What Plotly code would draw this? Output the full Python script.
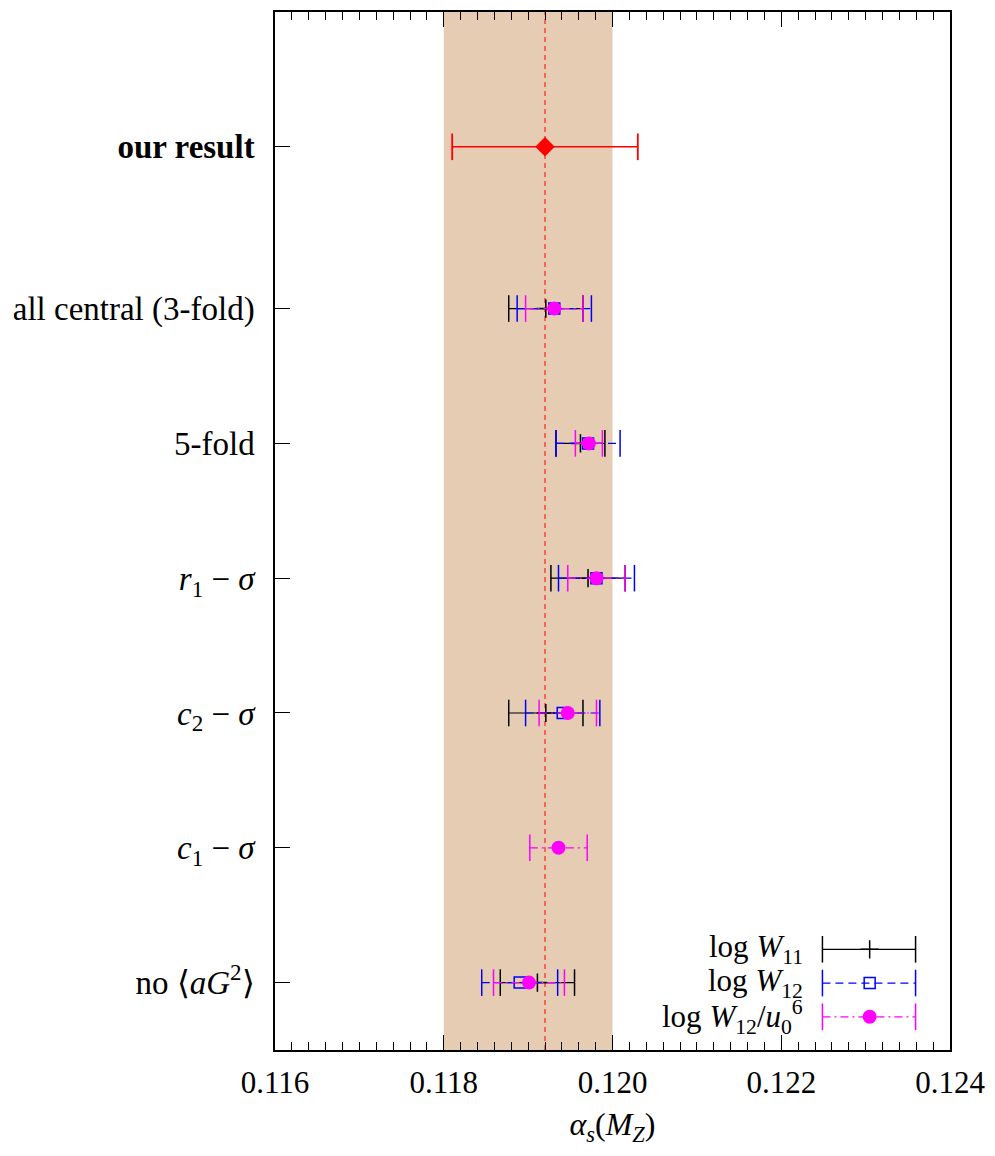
import plotly.graph_objects as go

# ---------------- data ----------------
row_labels = [
    "no ⟨<i>aG</i><sup>2</sup>⟩",
    "<i>c</i><sub>1</sub> − <i>σ</i>",
    "<i>c</i><sub>2</sub> − <i>σ</i>",
    "<i>r</i><sub>1</sub> − <i>σ</i>",
    "5-fold",
    "all central (3-fold)",
    "<b>our result</b>",
]
row_pos = [0, 1, 2, 3, 4, 5, 6.2]

w11_val = [0.11911, None, 0.11921, 0.11971, 0.11962, 0.11921]
w11_err = [0.00044, None, 0.00044, 0.00044, 0.00029, 0.00044]
w12_val = [0.11890, None, 0.11941, 0.11981, 0.11971, 0.11931]
w12_err = [0.00045, None, 0.00044, 0.00045, 0.00038, 0.00044]
u0_val = [0.11901, 0.11936, 0.11947, 0.11981, 0.11972, 0.11931]
u0_err = [0.00042, 0.00034, 0.00034, 0.00034, 0.00016, 0.00034]

result_val = 0.1192
result_err = 0.0011
band = [0.118, 0.120]

x_ticks = [0.116, 0.118, 0.120, 0.122, 0.124]

legend_names = [
    "log <i>W</i><sub>11</sub>",
    "log <i>W</i><sub>12</sub>",
    "log <i>W</i><sub>12</sub>/<i>u</i><sub>0</sub><sup>6</sup>",
]

FONT = "Liberation Serif"
FS = 31

series = [
    dict(val=w11_val, err=w11_err, color="black", dash="solid",
         symbol="cross-thin-open", size=13, name=legend_names[0]),
    dict(val=w12_val, err=w12_err, color="blue", dash="8px,5px",
         symbol="square-open", size=11, name=legend_names[1]),
    dict(val=u0_val, err=u0_err, color="magenta", dash="8px,4px,2px,4px",
         symbol="circle", size=14, name=legend_names[2]),
]

fig = go.Figure()


def add_errbar(val, err, ys, color, dash, symbol, size, lw=1.2):
    lx, ly, cx, cy, mx, my = [], [], [], [], [], []
    for v, e, y in zip(val, err, ys):
        if v is None:
            continue
        lx += [v - e, v + e, None]
        ly += [y, y, None]
        cx += [v - e, v + e]
        cy += [y, y]
        mx.append(v)
        my.append(y)
    fig.add_trace(go.Scatter(x=lx, y=ly, mode="lines",
                             line=dict(color=color, width=lw, dash=dash),
                             showlegend=False, hoverinfo="skip"))
    fig.add_trace(go.Scatter(x=cx, y=cy, mode="markers",
                             marker=dict(symbol="line-ns", size=19,
                                         line=dict(color=color, width=lw + 0.3)),
                             showlegend=False, hoverinfo="skip"))
    mk = dict(symbol=symbol, size=size, color=color)
    if symbol.endswith("open"):
        mk["line"] = dict(color=color, width=1.5)
    fig.add_trace(go.Scatter(x=mx, y=my, mode="markers", marker=mk,
                             showlegend=False))


for s in series:
    add_errbar(s["val"], s["err"], row_pos[:6], s["color"], s["dash"],
               s["symbol"], s["size"])

add_errbar([result_val], [result_err], [row_pos[6]], "red", "solid",
           "diamond", 15, lw=1.5)

# ---------------- legend drawn on overlay axes ----------------
leg_y = [0.097, 0.0645, 0.032]
leg_x0, leg_x1, leg_xm = 0.811, 0.949, 0.881
for s, yy in zip(series, leg_y):
    fig.add_trace(go.Scatter(x=[leg_x0, leg_x1], y=[yy, yy], mode="lines",
                             line=dict(color=s["color"], width=1.2, dash=s["dash"]),
                             xaxis="x2", yaxis="y2", showlegend=False,
                             hoverinfo="skip"))
    fig.add_trace(go.Scatter(x=[leg_x0, leg_x1], y=[yy, yy], mode="markers",
                             marker=dict(symbol="line-ns", size=19,
                                         line=dict(color=s["color"], width=1.5)),
                             xaxis="x2", yaxis="y2", showlegend=False,
                             hoverinfo="skip"))
    mk = dict(symbol=s["symbol"], size=s["size"], color=s["color"])
    if s["symbol"].endswith("open"):
        mk["line"] = dict(color=s["color"], width=1.5)
    fig.add_trace(go.Scatter(x=[leg_xm], y=[yy], mode="markers", marker=mk,
                             xaxis="x2", yaxis="y2", showlegend=False,
                             hoverinfo="skip"))
    fig.add_annotation(x=0.785, y=yy, xref="paper", yref="paper",
                       text=s["name"], showarrow=False, xanchor="right",
                       yanchor="middle", font=dict(family=FONT, size=FS, color="black"))

# ---------------- band and reference line ----------------
fig.add_shape(type="rect", x0=band[0], x1=band[1], y0=0, y1=1,
              xref="x", yref="paper", fillcolor="rgb(230,204,179)",
              line=dict(width=0), layer="below")
fig.add_shape(type="line", x0=result_val, x1=result_val, y0=0, y1=1,
              xref="x", yref="paper",
              line=dict(color="rgb(255,30,30)", width=1.2, dash="5px,4px"),
              layer="below")

fig.update_layout(
    width=995, height=1156,
    margin=dict(l=275, r=43, t=10, b=106),
    paper_bgcolor="white", plot_bgcolor="white",
    font=dict(family=FONT, size=FS, color="black"),
    showlegend=False,
    xaxis=dict(
        range=[0.116, 0.124], tickvals=x_ticks, tickformat=".3f",
        ticks="inside", ticklen=15, tickwidth=1, tickcolor="black",
        showline=True, linecolor="black", linewidth=1.5, mirror="ticks",
        showgrid=False, zeroline=False,
        minor=dict(dtick=0.0002, ticks="inside", ticklen=8, tickwidth=1,
                   tickcolor="black", showgrid=False),
        title=dict(text="<i>α</i><sub><i>s</i></sub>(<i>M</i><sub><i>Z</i></sub>)",
                   font=dict(family=FONT, size=32), standoff=14),
        tickfont=dict(family=FONT, size=31),
        ticklabelstandoff=4,
    ),
    yaxis=dict(
        range=[-0.5, 7.2], tickvals=row_pos, ticktext=row_labels,
        ticks="inside", ticklen=15, tickwidth=1, tickcolor="black",
        showline=True, linecolor="black", linewidth=1.5, mirror=True,
        showgrid=False, zeroline=False, ticklabelstandoff=12,
        tickfont=dict(family=FONT, size=33),
    ),
    xaxis2=dict(range=[0, 1], overlaying="x", visible=False, domain=[0, 1]),
    yaxis2=dict(range=[0, 1], overlaying="y", visible=False, domain=[0, 1]),
)

fig.write_html("out.html", config={"displayModeBar": False},
               post_script="document.body.style.margin='0';document.body.style.padding='0';")
